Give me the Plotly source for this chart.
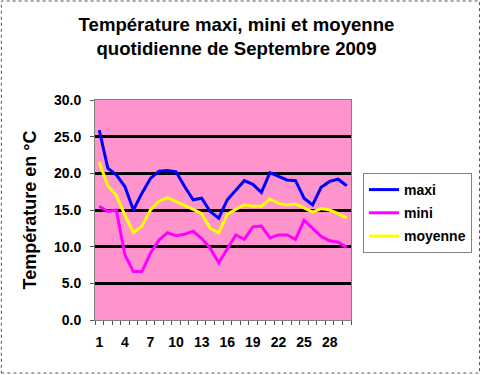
import plotly.graph_objects as go

days = list(range(1, 31))
maxi = [25.9, 20.7, 19.8, 18.2, 15.0, 17.3, 19.3, 20.3, 20.4, 20.2,
        18.2, 16.4, 16.6, 14.8, 13.9, 16.4, 17.7, 19.0, 18.5, 17.4,
        20.1, 19.6, 19.1, 19.0, 16.6, 15.7, 18.1, 18.9, 19.2, 18.3]
mini = [15.5, 14.8, 15.0, 8.9, 6.6, 6.6, 9.1, 10.9, 11.9, 11.5,
        11.7, 12.1, 11.1, 9.8, 7.8, 9.8, 11.6, 11.0, 12.7, 12.8,
        11.2, 11.6, 11.6, 11.0, 13.6, 12.5, 11.4, 10.8, 10.6, 9.9]
moyenne = [21.5, 18.3, 17.0, 14.3, 11.9, 12.8, 15.0, 16.2, 16.7, 16.2,
           15.7, 15.1, 14.5, 12.5, 11.9, 14.4, 15.1, 15.7, 15.5, 15.5,
           16.5, 15.9, 15.7, 15.8, 15.3, 14.7, 15.2, 15.0, 14.5, 13.9]
x_tick_vals = [1, 4, 7, 10, 13, 16, 19, 22, 25, 28]
y_tick_vals = [0, 5, 10, 15, 20, 25, 30]

FONT = "Liberation Sans, Arial, sans-serif"

fig = go.Figure()
for name, vals, col in [("maxi", maxi, "#0000FF"),
                        ("mini", mini, "#FF00FF"),
                        ("moyenne", moyenne, "#FFFF00")]:
    fig.add_trace(go.Scatter(x=days, y=vals, mode="lines", name=name,
                             legendgroup=name,
                             line=dict(color=col, width=3)))

fig.update_layout(
    width=483, height=375,
    margin=dict(l=95, r=131, t=100, b=55),
    paper_bgcolor="white",
    plot_bgcolor="#FF94CC",
    showlegend=True,
    title=dict(text="<b>Température maxi, mini et moyenne<br>quotidienne de Septembre 2009</b>",
               x=236.5 / 483, xanchor="center", xref="container",
               y=1 - 31 / 375, yanchor="middle",
               font=dict(family=FONT, size=18.6, color="black")),
    font=dict(family=FONT, color="black"),
    legend=dict(x=(363 - 95) / 257, xanchor="left", y=(320 - 173) / 220, yanchor="top",
                bgcolor="white", bordercolor="#808080", borderwidth=1,
                font=dict(family=FONT, size=14, color="black", weight="bold"),
                tracegroupgap=2, itemwidth=30),
    xaxis=dict(range=[0.5, 30.5], tickmode="array", tickvals=x_tick_vals,
               ticktext=[str(v) for v in x_tick_vals], ticks="",
               showgrid=False, zeroline=False,
               showline=True, linecolor="#808080", linewidth=1, mirror=True,
               tickfont=dict(family=FONT, size=14, color="black", weight="bold"),
               ticklabelstandoff=9,
               minor=dict(tick0=0.5, dtick=1, ticks="outside", ticklen=4,
                          tickcolor="#555555", showgrid=False)),
    yaxis=dict(range=[0, 30], tickmode="array", tickvals=y_tick_vals,
               ticktext=[f"{v:.1f}" for v in y_tick_vals],
               ticks="outside", ticklen=4, tickcolor="#555555",
               ticklabelstandoff=6,
               showgrid=True, gridcolor="black", gridwidth=3,
               zeroline=False,
               showline=True, linecolor="#808080", linewidth=1, mirror=True,
               tickfont=dict(family=FONT, size=14, color="black", weight="bold"),
               title=dict(text="<b>Température en °C</b>", standoff=12,
                          font=dict(family=FONT, size=18, color="black"))),
)

# outer dotted chart frame
fig.add_shape(type="rect", xref="paper", yref="paper",
              x0=(1 - 95) / 257, x1=(481 - 95) / 257,
              y0=(320 - 373) / 220, y1=(320 - 1) / 220,
              line=dict(color="#555555", width=1, dash="dot"), layer="below")

fig.write_html("out.html", config={"displayModeBar": False},
               post_script="document.body.style.margin='0';document.body.style.padding='0';")
